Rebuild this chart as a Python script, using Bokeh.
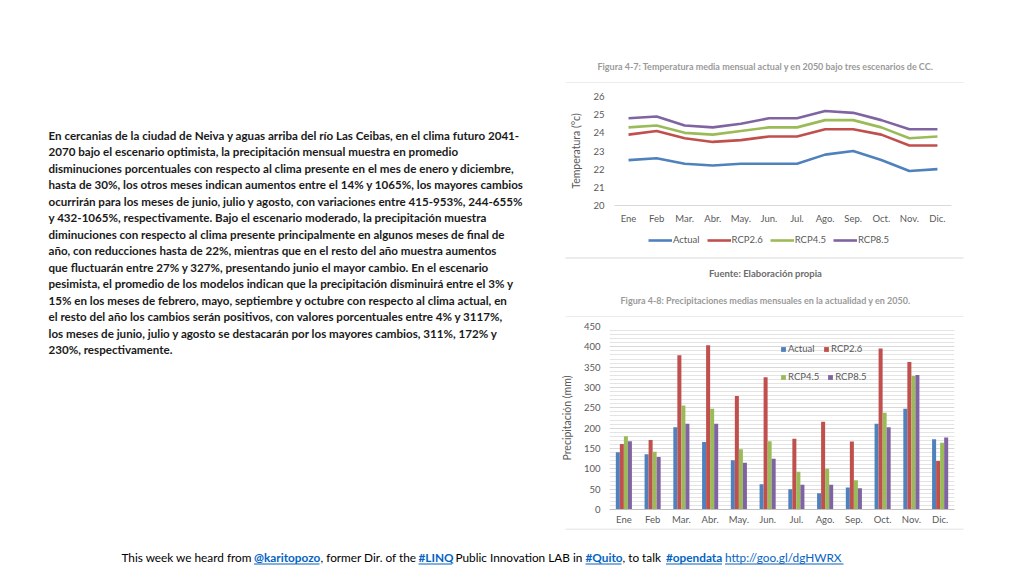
from bokeh.plotting import figure
from bokeh.models import (Range1d, FactorRange, Legend, LegendItem, ColumnDataSource,
                          FixedTicker, SingleIntervalTicker, Plot)
from bokeh.layouts import column, row
from bokeh.embed import file_html
from bokeh.resources import INLINE
from bokeh.core.properties import value
from bokeh.transform import dodge

# ---------------- data ----------------
months = ["Ene", "Feb", "Mar.", "Abr.", "May.", "Jun.", "Jul.", "Ago.", "Sep.", "Oct.", "Nov.", "Dic."]
series = ["Actual", "RCP2.6", "RCP4.5", "RCP8.5"]

temp_actual = [22.5, 22.6, 22.3, 22.2, 22.3, 22.3, 22.3, 22.8, 23.0, 22.5, 21.9, 22.0]
temp_rcp26 = [23.9, 24.1, 23.7, 23.5, 23.6, 23.8, 23.8, 24.2, 24.2, 23.9, 23.3, 23.3]
temp_rcp45 = [24.3, 24.4, 24.0, 23.9, 24.1, 24.3, 24.3, 24.7, 24.7, 24.3, 23.7, 23.8]
temp_rcp85 = [24.8, 24.9, 24.4, 24.3, 24.5, 24.8, 24.8, 25.2, 25.1, 24.7, 24.2, 24.2]
temp_ticks = [20, 21, 22, 23, 24, 25, 26]

prec_actual = [141, 136, 202, 166, 121, 62, 50, 40, 54, 211, 248, 173]
prec_rcp26 = [161, 171, 379, 404, 279, 325, 174, 216, 167, 396, 363, 119]
prec_rcp45 = [180, 142, 256, 248, 148, 168, 93, 100, 72, 238, 328, 164]
prec_rcp85 = [168, 129, 211, 211, 115, 125, 61, 61, 52, 202, 331, 177]

paragraph = [
    "En cercanias de la ciudad de Neiva y aguas arriba del río Las Ceibas, en el clima futuro 2041-",
    "2070 bajo el escenario optimista, la precipitación mensual muestra en promedio",
    "disminuciones porcentuales con respecto al clima presente en el mes de enero y diciembre,",
    "hasta de 30%, los otros meses indican aumentos entre el 14% y 1065%, los mayores cambios",
    "ocurrirán para los meses de junio, julio y agosto, con variaciones entre 415-953%, 244-655%",
    "y 432-1065%, respectivamente. Bajo el escenario moderado, la precipitación muestra",
    "diminuciones con respecto al clima presente principalmente en algunos meses de final de",
    "año, con reducciones hasta de 22%, mientras que en el resto del año muestra aumentos",
    "que fluctuarán entre 27% y 327%, presentando junio el mayor cambio. En el escenario",
    "pesimista, el promedio de los modelos indican que la precipitación disminuirá entre el 3% y",
    "15% en los meses de febrero, mayo, septiembre y octubre con respecto al clima actual, en",
    "el resto del año los cambios serán positivos, con valores porcentuales entre 4% y 3117%,",
    "los meses de junio, julio y agosto se destacarán por los mayores cambios, 311%, 172% y",
    "230%, respectivamente.",
]

caption1 = "Figura 4-7: Temperatura media mensual actual y en 2050 bajo tres escenarios de CC."
caption2 = "Figura 4-8: Precipitaciones medias mensuales en la actualidad y en 2050."
source_note = "Fuente: Elaboración propia"

footer_parts = [
    ("This week we heard from", "plain"),
    ("@karitopozo", "link"),
    (", former Dir. of the", "plain"),
    ("#LINQ", "link"),
    ("Public Innovation LAB in", "plain"),
    ("#Quito", "link"),
    (", to talk", "plain"),
    ("#opendata", "link"),
    ("http://goo.gl/dgHWRX", "url"),
]

# ---------------- styles ----------------
COLORS = ["#4F81BD", "#C0504D", "#9BBB59", "#8064A2"]
FONT = value("Lato")
FONTNAME = "Lato"
AXIS_GRAY = "#595959"
EXTRA = {"frame_align": False} if "frame_align" in Plot.properties() else {}


def canvas(w, h, x0, y0):
    f = figure(width=w, height=h, x_range=Range1d(x0, x0 + w), y_range=Range1d(y0 + h, y0),
               output_backend="svg", toolbar_location=None, min_border=0,
               x_axis_location=None, y_axis_location=None, **EXTRA)
    f.grid.visible = False
    f.outline_line_color = None
    f.background_fill_color = "white"
    f.border_fill_color = "white"
    return f


def style_axis(ax):
    ax.major_tick_line_color = None
    ax.minor_tick_line_color = None
    ax.major_tick_out = 0
    ax.major_tick_in = 0
    ax.minor_tick_out = 0
    ax.major_label_text_font = FONTNAME
    ax.major_label_text_font_size = "9.5px"
    ax.major_label_text_color = AXIS_GRAY
    ax.axis_label_text_font = FONTNAME
    ax.axis_label_text_font_size = "10.5px"
    ax.axis_label_text_font_style = "normal"
    ax.axis_label_text_color = AXIS_GRAY


# ---------------- left text ----------------
left = canvas(557, 540, 0, 0)
left.text(x=[48] * len(paragraph), y=[134.5 + 16.5 * i for i in range(len(paragraph))], text=paragraph,
          text_font=FONT, text_font_style="bold", text_font_size="11.6px",
          text_color="#1a1a1a", text_baseline="middle", text_align="left")

# ---------------- right column: caption 1 ----------------
cap1 = canvas(459, 83, 557, 0)
cap1.text(x=[765], y=[66], text=[caption1], text_font=FONT, text_font_style="bold",
          text_font_size="9px", text_color="#9a9a9a", text_baseline="middle", text_align="center")
cap1.segment(x0=[565], y0=[82.5], x1=[963], y1=[82.5], line_color="#d9d9d9", line_width=1)

# ---------------- temperature chart ----------------
p1 = figure(width=459, height=145, x_range=FactorRange(*months), y_range=Range1d(20, 26),
            output_backend="svg", toolbar_location=None,
            min_border_left=57, min_border_right=65, min_border_top=13, min_border_bottom=23, **EXTRA)
p1.outline_line_color = None
p1.grid.grid_line_color = None
temps = [temp_actual, temp_rcp26, temp_rcp45, temp_rcp85]
for vals, col in zip(temps, COLORS):
    p1.line(months, vals, line_color=col, line_width=2.6)
p1.yaxis.ticker = FixedTicker(ticks=temp_ticks)
p1.yaxis.axis_line_color = None
p1.yaxis.axis_label = "Temperatura (°c)"
p1.yaxis.axis_label_standoff = 8
p1.xaxis.axis_line_color = "#d9d9d9"
style_axis(p1.xaxis[0])
style_axis(p1.yaxis[0])
p1.yaxis.major_label_standoff = 10
p1.xaxis.major_label_standoff = 7

# ---------------- strip under chart 1: its legend + captions ----------------
mid = canvas(459, 89, 557, 228)
items1 = []
for name, col in zip(series, COLORS):
    # legend keys only: a line parked outside the visible strip
    r = mid.line(x=[0, 1], y=[0, 0], line_color=col, line_width=2.6)
    items1.append(LegendItem(label=name, renderers=[r]))
leg1 = Legend(items=items1, orientation="horizontal", location=(91, 72),
              glyph_width=24, glyph_height=10, label_standoff=1, spacing=7,
              padding=0, margin=0, border_line_alpha=0, background_fill_alpha=0,
              label_text_font=FONTNAME, label_text_font_size="9.5px", label_text_color=AXIS_GRAY)
mid.add_layout(leg1)
mid.segment(x0=[565], y0=[257.5], x1=[963], y1=[257.5], line_color="#d9d9d9", line_width=1)
mid.text(x=[765], y=[273], text=[source_note], text_font=FONT, text_font_style="bold",
         text_font_size="9.5px", text_color="#6b6b6b", text_baseline="middle", text_align="center")
mid.text(x=[765], y=[300], text=[caption2], text_font=FONT, text_font_style="bold",
         text_font_size="9px", text_color="#9a9a9a", text_baseline="middle", text_align="center")
mid.segment(x0=[565], y0=[316.5], x1=[963], y1=[316.5], line_color="#d9d9d9", line_width=1)

# ---------------- precipitation chart ----------------
src = ColumnDataSource(dict(month=months, a=prec_actual, b=prec_rcp26, c=prec_rcp45, d=prec_rcp85))
p2 = figure(width=459, height=211, x_range=FactorRange(*months), y_range=Range1d(0, 450),
            output_backend="svg", toolbar_location=None,
            min_border_left=52, min_border_right=62, min_border_top=9, min_border_bottom=19, **EXTRA)
p2.outline_line_color = None
p2.xgrid.grid_line_color = None
p2.ygrid.grid_line_color = "#d9d9d9"
p2.ygrid.minor_grid_line_color = "#e4e4e4"
renders2 = []
for off, key, col in zip([-0.21, -0.07, 0.07, 0.21], ["a", "b", "c", "d"], COLORS):
    r = p2.vbar(x=dodge("month", off, range=p2.x_range), top=key, width=0.14, source=src,
                fill_color=col, line_color=None)
    renders2.append(r)
for names, rs, vy in [(series[:2], renders2[:2], 155), (series[2:], renders2[2:], 127)]:
    lg = Legend(items=[LegendItem(label=n, renderers=[r]) for n, r in zip(names, rs)],
                orientation="horizontal", location=(171, vy),
                glyph_width=6, glyph_height=6, label_standoff=2, spacing=8, label_width=27,
                padding=0, margin=0, border_line_alpha=0, background_fill_alpha=0,
                label_text_font=FONTNAME, label_text_font_size="9.5px", label_text_color=AXIS_GRAY)
    p2.add_layout(lg)
p2.yaxis.ticker = SingleIntervalTicker(interval=50, num_minor_ticks=5)
p2.yaxis.axis_line_color = None
p2.yaxis.axis_label = "Precipitación (mm)"
p2.yaxis.axis_label_standoff = 8
p2.xaxis.axis_line_color = "#bfbfbf"
style_axis(p2.xaxis[0])
style_axis(p2.yaxis[0])
p2.yaxis.major_label_standoff = 9
p2.xaxis.major_label_standoff = 4

bot = canvas(459, 12, 557, 528)
bot.segment(x0=[565], y0=[528.5], x1=[963], y1=[528.5], line_color="#d9d9d9", line_width=1)

# ---------------- footer ----------------
footer = canvas(1016, 28, 0, 540)
fx = [121, 253.5, 320, 418, 455, 585, 622, 665.5, 724.5]
fend = [None, 319, None, 451.5, None, 621, None, 721.5, 843]
for (txt, kind), x, xe in zip(footer_parts, fx, fend):
    color = "#000000" if kind == "plain" else "#0563C1"
    style = "bold" if kind == "link" else "normal"
    footer.text(x=[x], y=[557], text=[txt], text_font=FONT, text_font_style=style,
                text_font_size="11.8px", text_color=color, text_baseline="middle", text_align="left")
    if xe is not None:
        footer.segment(x0=[x], y0=[563.5], x1=[xe], y1=[563.5], line_color=color, line_width=1)

right = column(cap1, p1, mid, p2, bot)
page = column(row(left, right), footer)

open("out.html", "w").write(file_html(page, INLINE))
